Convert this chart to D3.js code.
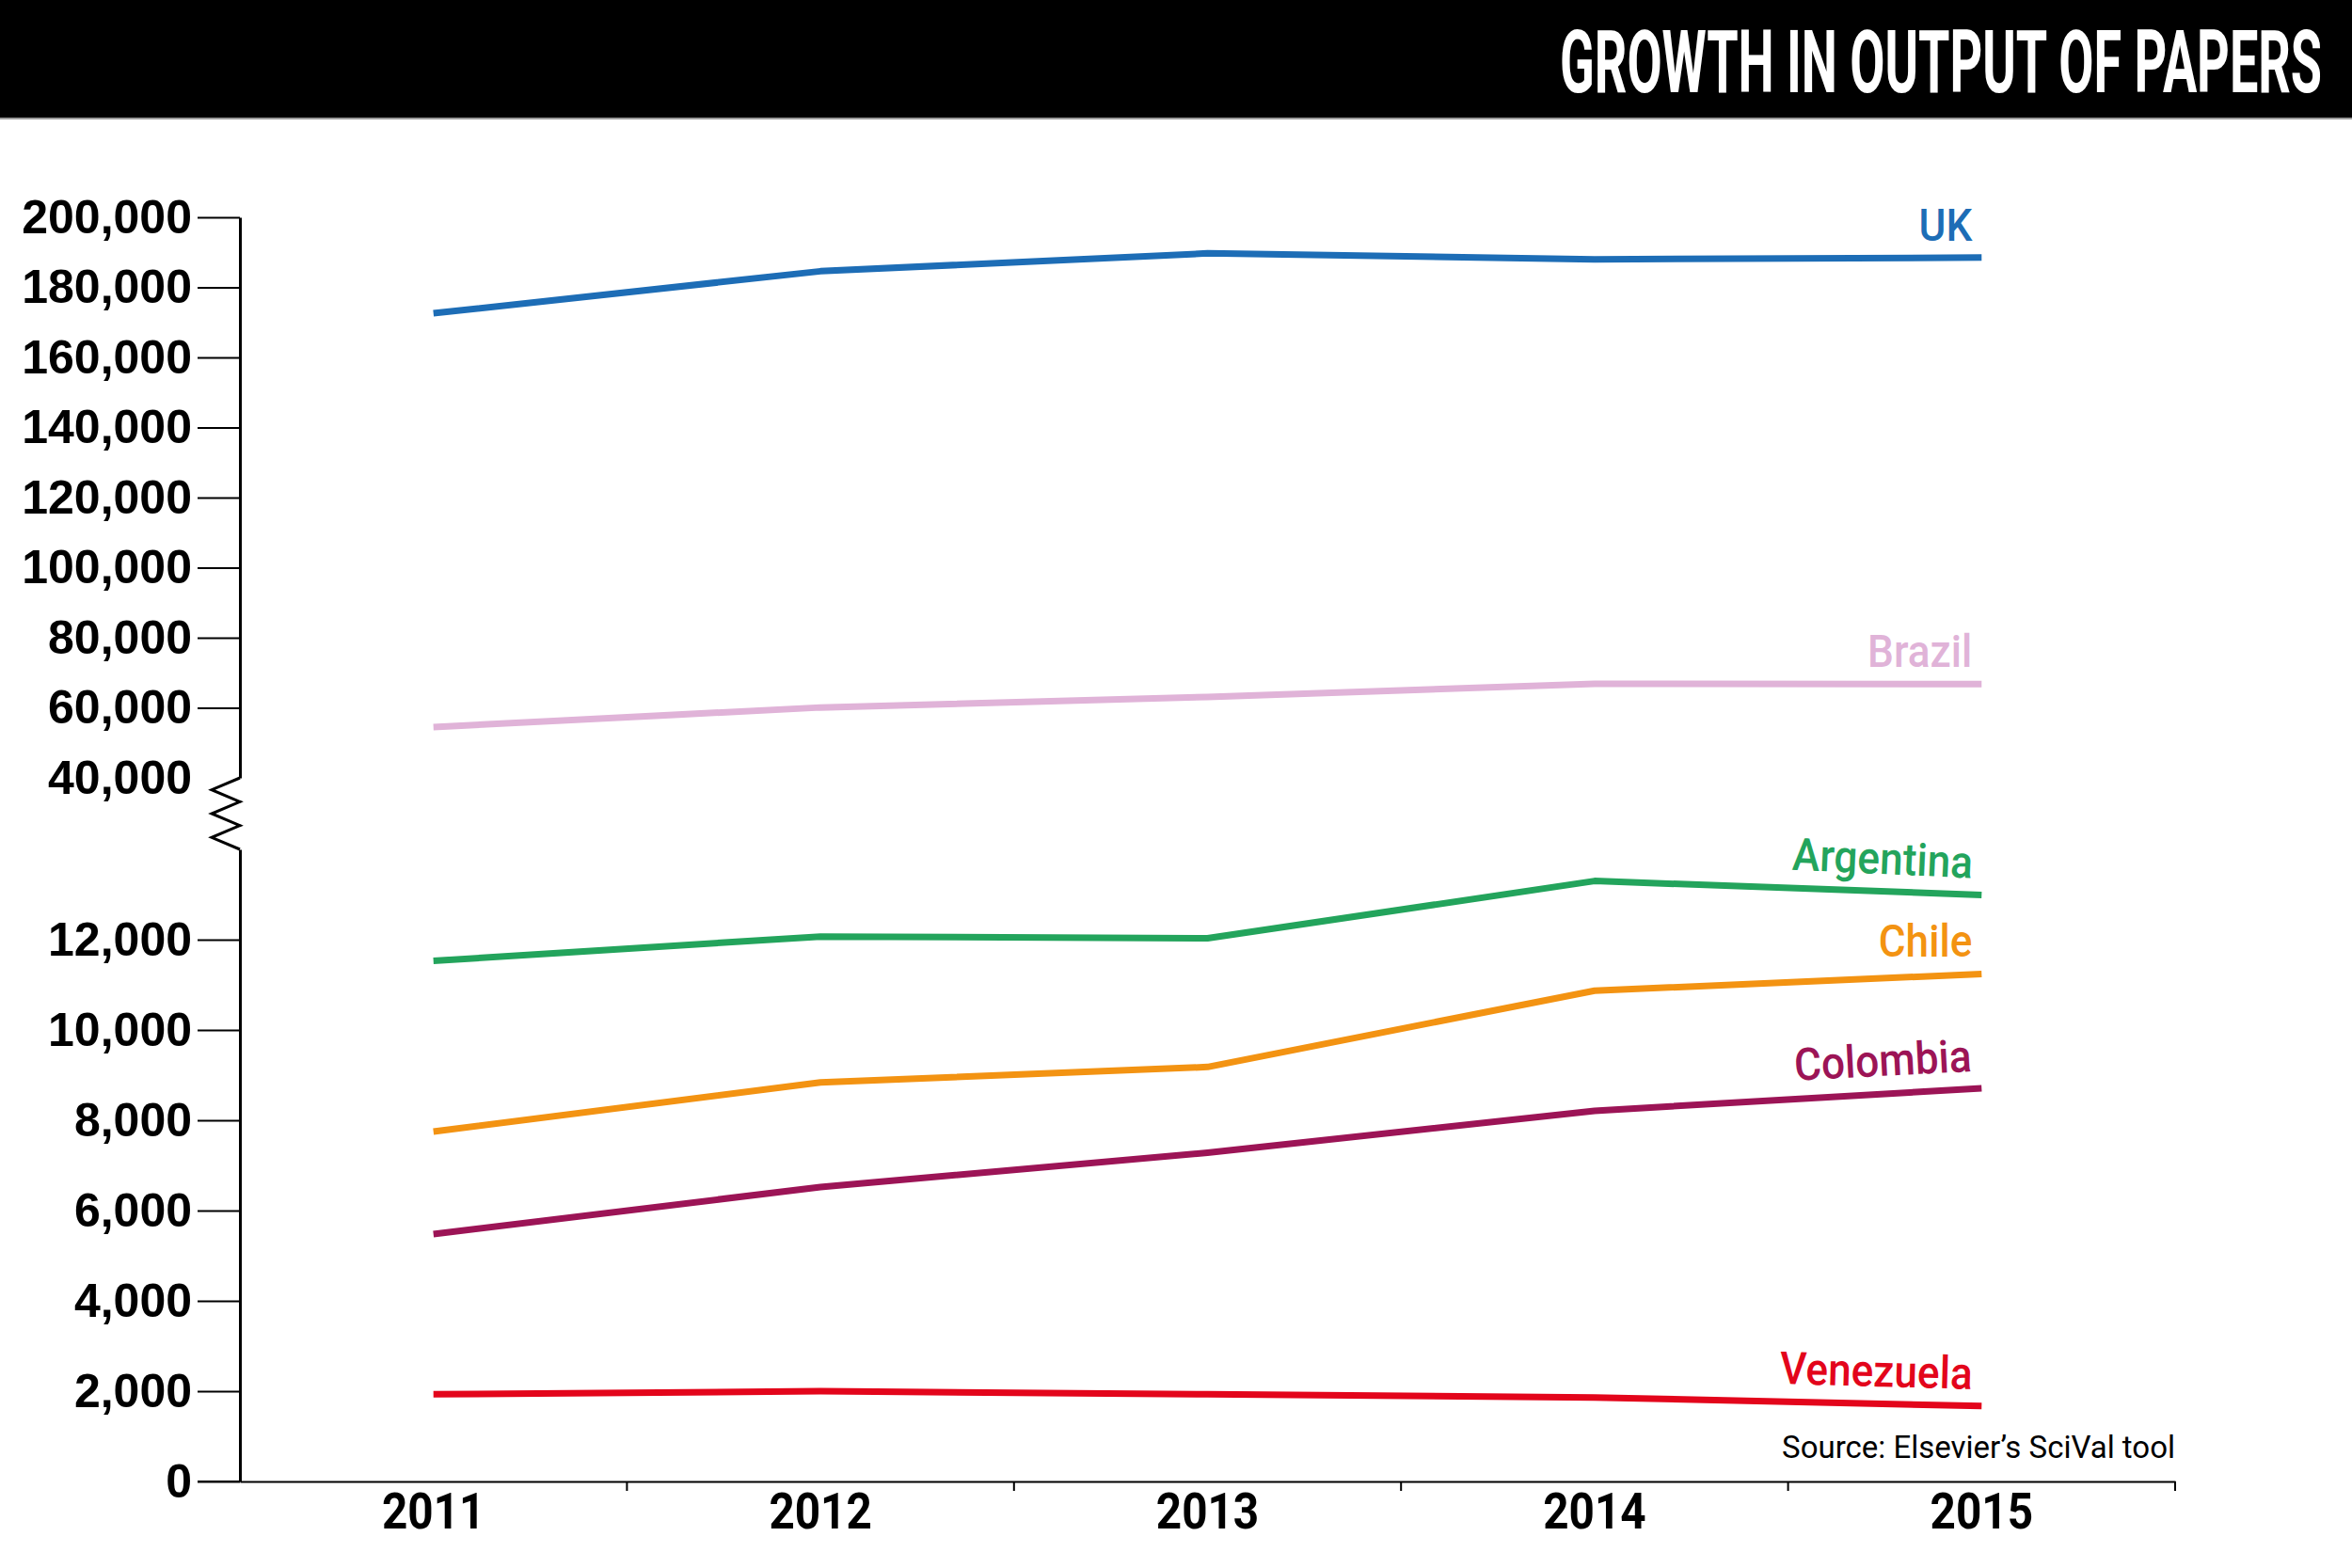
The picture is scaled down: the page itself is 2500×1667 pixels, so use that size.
<!DOCTYPE html>
<html>
<head>
<meta charset="utf-8">
<script src="https://cdn.jsdelivr.net/npm/d3@7"></script>
<style>
  body { margin: 0; background: #fff; }
  .narrow { font-family: Roboto, "Liberation Sans", sans-serif; }
</style>
</head>
<body>
<script>
// data
let years = ['2011', '2012', '2013', '2014', '2015'];
let countries = ['UK', 'Brazil', 'Argentina', 'Chile', 'Colombia', 'Venezuela'];
let uk        = [172600, 184600, 189700, 188000, 188500];
let brazil    = [54500, 60100, 63100, 66850, 66800];
let argentina = [11530, 12070, 12030, 13300, 12990];
let chile     = [7750, 8840, 9180, 10870, 11240];
let colombia  = [5480, 6520, 7280, 8210, 8710];
let venezuela = [1930, 2000, 1930, 1860, 1670];
let upperTicks = [40000, 60000, 80000, 100000, 120000, 140000, 160000, 180000, 200000];
let lowerTicks = [0, 2000, 4000, 6000, 8000, 10000, 12000];

let width = 2500, height = 1667;

// series: which part of the broken axis each one lives on
let series = [
  { name: 'UK',        values: uk,        part: 'top', color: '#1d6db6', tilt: 0 },
  { name: 'Brazil',    values: brazil,    part: 'top', color: '#e0b3d8', tilt: 0 },
  { name: 'Argentina', values: argentina, part: 'bot', color: '#23a45c', tilt: 2.6 },
  { name: 'Chile',     values: chile,     part: 'bot', color: '#f39312', tilt: 0 },
  { name: 'Colombia',  values: colombia,  part: 'bot', color: '#9c1456', tilt: -3 },
  { name: 'Venezuela', values: venezuela, part: 'bot', color: '#e3051b', tilt: 1.6 }
];

let svg = d3.select('body').append('svg').attr('width', width).attr('height', height)

// header bar
svg.append('rect').attr('x', 0).attr('y', 0).attr('width', width).attr('height', 125).attr('fill', '#000')
svg.append('rect').attr('x', 0).attr('y', 125).attr('width', width).attr('height', 2).attr('fill', '#9a9a9a')
let title = svg.append('text').attr('class', 'narrow')
  .attr('text-anchor', 'end')
  .style('font-size', '93px').style('font-weight', 'bold').attr('fill', '#fff')
  .text('GROWTH IN OUTPUT OF PAPERS')
// squeeze the title into the condensed width of the original
let tw = title.node().getComputedTextLength()
title.attr('transform', `translate(2468,98) scale(${810 / tw},1)`)

let axisX = 255;

let xScale = d3.scaleBand().domain(years).range([axisX, 2312])
let xPos = d => xScale(d) + xScale.bandwidth() / 2

let yTop = d3.scaleLinear().domain([40000, 200000]).range([827, 231])
let yBot = d3.scaleLinear().domain([0, 14000]).range([1575, 903])

let fmt = d3.format(',')

function styleYAxis(g) {
  g.select('.domain').attr('stroke', '#000').attr('stroke-width', 3)
  g.selectAll('.tick line').attr('stroke', '#000').attr('stroke-width', 2)
  g.selectAll('.tick text')
    .style('font-family', '"Liberation Sans", Arial, sans-serif')
    .style('font-weight', 'bold').style('font-size', '50px').attr('fill', '#000')
}

// upper y axis
let yAxisTop = svg.append('g').attr('transform', `translate(${axisX},0)`)
  .call(d3.axisLeft(yTop).tickValues(upperTicks).tickFormat(fmt).tickSize(45).tickPadding(6).tickSizeOuter(0))
styleYAxis(yAxisTop)
yAxisTop.selectAll('.tick').filter(d => d === 40000).select('line').remove()

// lower y axis
let yAxisBot = svg.append('g').attr('transform', `translate(${axisX},0)`)
  .call(d3.axisLeft(yBot).tickValues(lowerTicks).tickFormat(fmt).tickSize(45).tickPadding(6).tickSizeOuter(0))
styleYAxis(yAxisBot)

// axis break zigzag
let zTop = yTop(40000), zBot = yBot.range()[1];
let zig = d3.range(7).map(i => [axisX - (i % 2 ? 30 : 0), zTop + (zBot - zTop) * i / 6])
svg.append('path').attr('d', d3.line()(zig)).attr('fill', 'none').attr('stroke', '#000').attr('stroke-width', 3)

// x axis
let xAxis = svg.append('g').attr('transform', `translate(0,${yBot(0)})`)
  .call(d3.axisBottom(xScale).tickSize(0).tickPadding(12).tickSizeOuter(0))
xAxis.select('.domain').attr('stroke', '#000').attr('stroke-width', 2)
xAxis.selectAll('.tick text').attr('class', 'narrow')
  .attr('transform', 'scale(0.9,1)')
  .style('font-size', '53px').style('font-weight', 'bold').attr('fill', '#000')
svg.append('line').attr('x1', 210).attr('x2', axisX).attr('y1', yBot(0)).attr('y2', yBot(0))
  .attr('stroke', '#000').attr('stroke-width', 2)
svg.selectAll('.xtick').data(years).enter().append('line')
  .attr('x1', d => xScale(d) + xScale.bandwidth()).attr('x2', d => xScale(d) + xScale.bandwidth())
  .attr('y1', yBot(0)).attr('y2', yBot(0) + 10)
  .attr('stroke', '#000').attr('stroke-width', 2)

// lines
series.forEach(s => {
  let y = s.part === 'top' ? yTop : yBot;
  let line = d3.line().x((d, i) => xPos(years[i])).y(d => y(d))
  svg.append('path').datum(s.values)
    .attr('d', line)
    .attr('fill', 'none').attr('stroke', s.color).attr('stroke-width', 7)
    .attr('stroke-linejoin', 'round')

  let last = s.values.length - 1;
  let lx = xPos(years[last]) - 10, ly = y(s.values[last]) - 18;
  svg.append('text').attr('class', 'narrow')
    .attr('transform', `translate(${lx},${ly}) rotate(${s.tilt}) scale(0.92,1)`)
    .attr('text-anchor', 'end')
    .style('font-size', '48px').style('font-weight', 500).attr('fill', s.color)
    .text(s.name)
})

// source note
svg.append('text').attr('class', 'narrow')
  .attr('x', 2312).attr('y', 1550).attr('text-anchor', 'end')
  .style('font-size', '33px').attr('fill', '#000')
  .text('Source: Elsevier\u2019s SciVal tool')
</script>
</body>
</html>
